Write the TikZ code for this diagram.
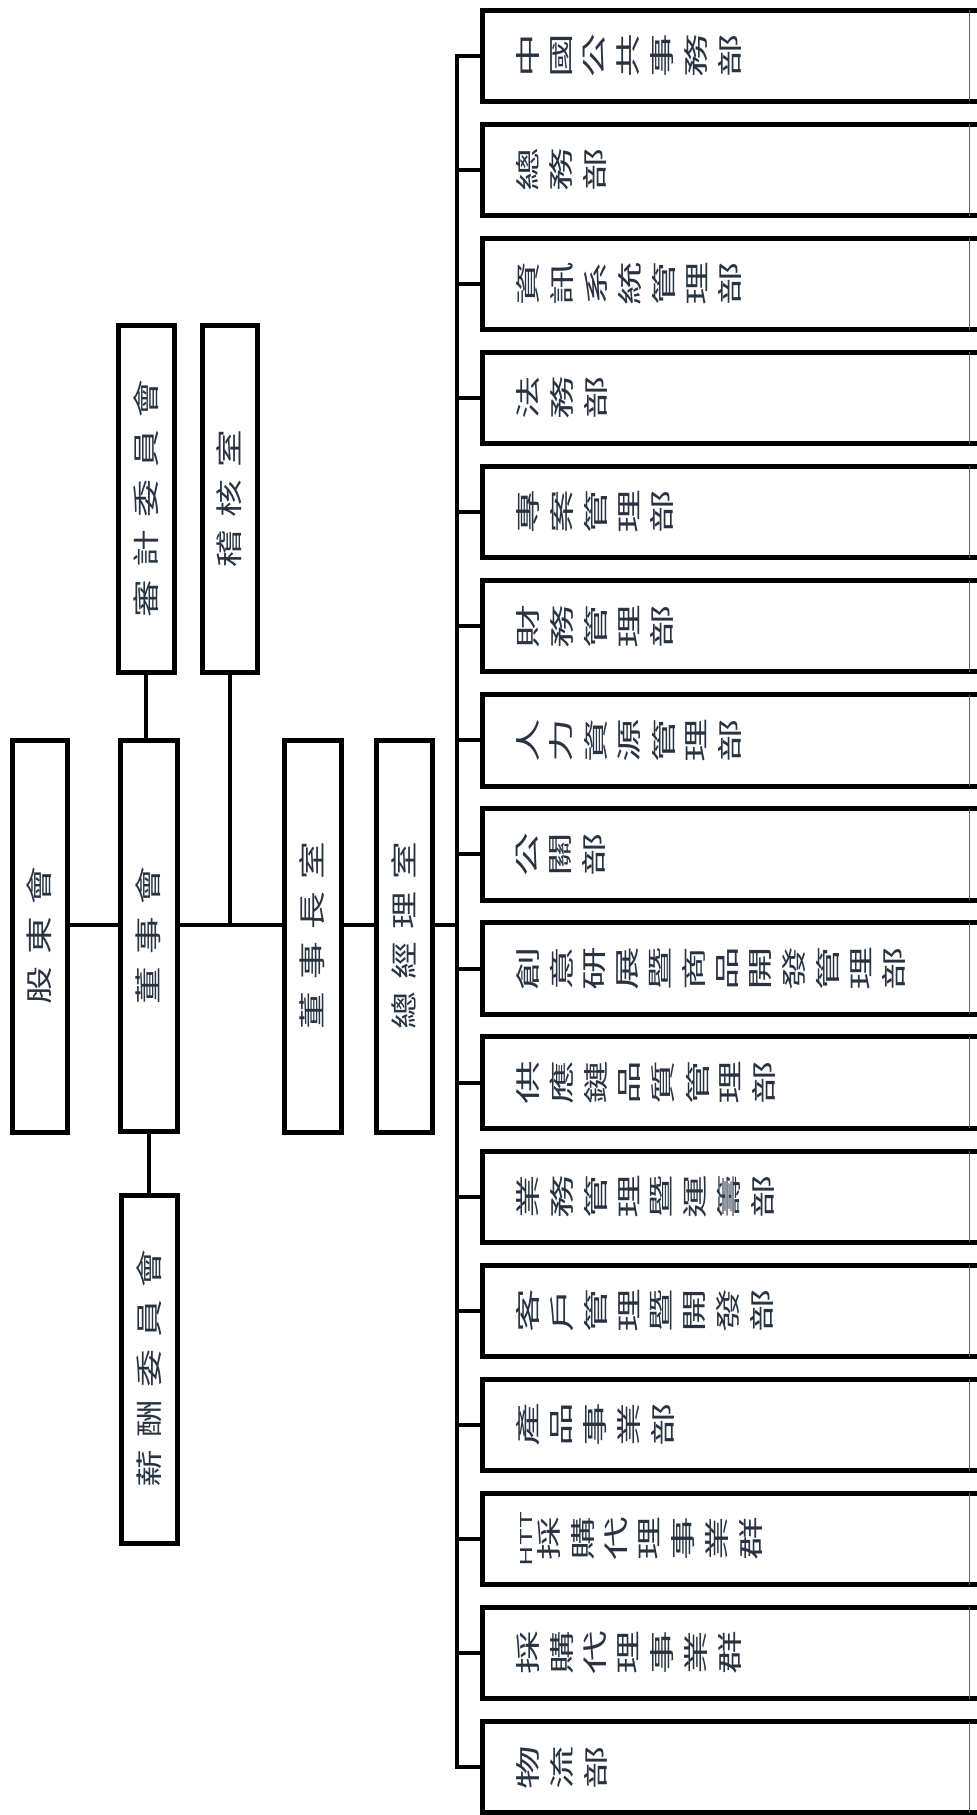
\documentclass[tikz,border=0pt]{standalone}
\usepackage{fontspec}
\usepackage{graphicx}
\newfontfamily\cjk{Noto Sans CJK TC}
\definecolor{txt}{RGB}{40,50,65}
\makeatletter
\newcommand\spacedtxt[2]{\@tfor\sp@c:=#2\do{\sp@c\hspace{#1}}\unskip}
\newcommand\deptchars[1]{\@tfor\dp@c:=#1\do{\rotatebox{90}{\scalebox{1.75}[1]{\dp@c}}\hspace{11pt}}\unskip}
\makeatother
\newcommand\lbox[6]{%
  \node[box, minimum width={#4-#2}, minimum height={#5-#3}] (#1) at ({(#2+#4)/2},{(#3+#5)/2}) {};
  \node[lefttxt] (#1t) at (#1.center) {\scalebox{1.4}[1]{\spacedtxt{8.7pt}{#6}}};}
\newcommand\dept[2]{%
  \pgfmathsetmacro\dtop{10+114.1*(#1-1)}
  \node[minimum width=495, minimum height=91, inner sep=0pt, anchor=north west] (d#1) at (482,\dtop) {};
  \draw[line width=5pt] (d#1.north east) -- (d#1.north west) -- (d#1.south west) -- (d#1.south east);
  \draw[line width=1pt, black!60] ([xshift=-8pt]d#1.north east) -- ([xshift=-8pt]d#1.south east);
  \node[depttxt] (d#1t) at ([xshift=34pt]d#1.west) {#2};
  \draw[conn] (d#1.west -| bus) -- (d#1.west);}
\begin{document}
\begin{tikzpicture}[x=1pt,y=-1pt,
  box/.style={draw=black, line width=5pt, inner sep=0pt},
  conn/.style={draw=black, line width=4pt},
  lefttxt/.style={rotate=90, inner sep=0pt, text=txt, font=\cjk\fontsize{27pt}{27pt}\selectfont},
  depttxt/.style={anchor=west, inner sep=0pt, text=txt, font=\cjk\fontsize{25pt}{25pt}\selectfont}]
\useasboundingbox[fill=white] (0,0) rectangle (977,1815);
\coordinate (busy) at (0,925);
\coordinate (bus) at (457,925);
% left column boxes
\lbox{gd}{12}{740}{67}{1132}{股東會}
\lbox{bd}{120}{740}{177}{1131}{董事會}
\lbox{audit}{118}{325}{174}{672}{審計委員會}
\lbox{aud2}{202}{325}{257}{672}{稽核室}
\lbox{chair}{284}{740}{341}{1132}{董事長室}
\lbox{gm}{376}{740}{432}{1132}{總經理室}
\lbox{comp}{121}{1195}{177}{1543}{薪酬委員會}
% connectors
\draw[conn] (gd.east |- busy) -- (bd.west |- busy);
\draw[conn] (bd.east |- busy) -- (chair.west |- busy);
\draw[conn] (chair.east |- busy) -- (gm.west |- busy);
\draw[conn] (gm.east |- busy) -- (bus);
\draw[conn] (aud2.south) -- (aud2.south |- busy);
\draw[conn] (audit.south) -- (audit.south |- bd.north);
\draw[conn] (bd.south) -- (bd.south |- comp.north);
% departments
\dept{1}{\deptchars{中國公共事務部}}
\dept{2}{\deptchars{總務部}}
\dept{3}{\deptchars{資訊系統管理部}}
\dept{4}{\deptchars{法務部}}
\dept{5}{\deptchars{專案管理部}}
\dept{6}{\deptchars{財務管理部}}
\dept{7}{\deptchars{人力資源管理部}}
\dept{8}{\deptchars{公關部}}
\dept{9}{\deptchars{創意研展暨商品開發管理部}}
\dept{10}{\deptchars{供應鏈品質管理部}}
\dept{11}{\deptchars{業務管理暨運籌部}}
\dept{12}{\deptchars{客戶管理暨開發部}}
\dept{13}{\deptchars{產品事業部}}
\dept{14}{\hspace{21pt}\deptchars{採購代理事業群}}
\node[rotate=90, inner sep=0pt, text=txt, font=\cjk\fontsize{25pt}{25pt}\selectfont] (d14h) at ([xshift=44pt]d14.west) {\resizebox{54pt}{12pt}{HTT}};
\dept{15}{\deptchars{採購代理事業群}}
\dept{16}{\deptchars{物流部}}
\draw[conn, line cap=rect] (d1.west -| bus) -- (d16.west -| bus);
\end{tikzpicture}
\end{document}
